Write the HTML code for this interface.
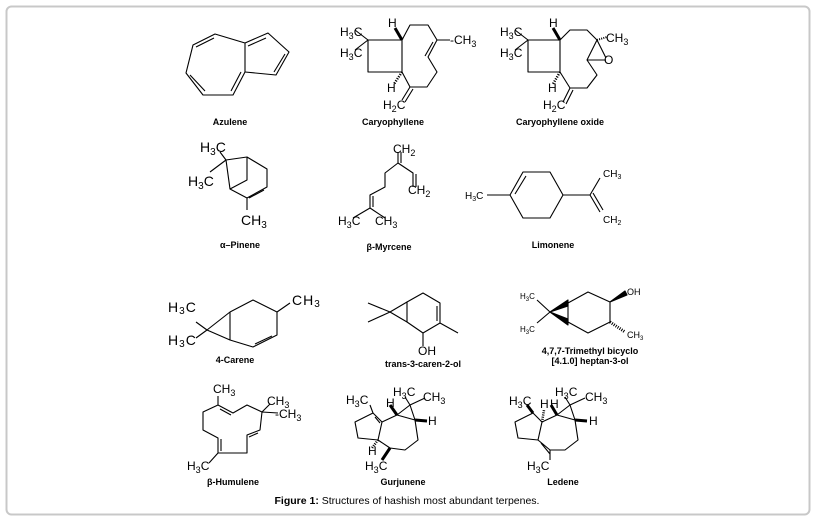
<!DOCTYPE html>
<html><head><meta charset="utf-8"><style>
html,body{margin:0;padding:0;background:#fff;width:816px;height:520px;overflow:hidden}
svg{display:block}
text{font-family:"Liberation Sans",Arial,sans-serif;fill:#000}
.a{font-size:12px}
.s{font-size:9px}
.n{font-size:9px;font-weight:bold;text-anchor:middle}
</style></head><body>
<svg width="816" height="520" viewBox="0 0 816 520" xmlns="http://www.w3.org/2000/svg">
<rect x="6.5" y="6.5" width="803" height="508" rx="5" fill="#fff" stroke="#c8c8c8" stroke-width="2"/>
<g fill="none" stroke="#000" stroke-width="1.1" stroke-linejoin="round">
<!-- Azulene -->
<path d="M186,73 L193,45 L215,34 L245,43 L245,72 L233,95 L203,95 Z"/>
<path d="M245,43 L268,33 L289,52 L276,75 L245,72"/>
<path d="M196,47 L214,38 M190,75 L205,91 M231,91 L241,72 M248,46 L266,38 M285,54 L274,72"/>
<!-- Caryophyllene -->
<path d="M368,40 L402,40 L402,72 L368,72 Z M368,40 L355,30 M368,40 L355,50"/>
<path d="M402,40 L410,25 L428,25 L437,40 L450,40 M437,40 L428,57 L437,72 L427,87 L410,87 L402,72"/>
<path d="M433,42 L425,56 M410,87 L402,100 M413,89 L405,102"/>
<path d="M402,40 L395,28" stroke-width="3"/>
<path d="M402,72 L394,84" stroke-dasharray="1.2,1.3" stroke-width="2.5"/>
<!-- Caryophyllene oxide -->
<path d="M528,40 L560,40 L560,72 L528,72 Z M528,40 L515,30 M528,40 L515,50"/>
<path d="M560,40 L570,30 L587,30 L597,40 M597,40 L587,60 L597,75 L587,88 L570,88 L560,72"/>
<path d="M587,60 L606,60 M597,40 L606,58 M570,88 L563,102 M573,90 L566,104"/>
<path d="M560,40 L553,28" stroke-width="3"/>
<path d="M597,40 L607,37" stroke-dasharray="1,1.2" stroke-width="2"/>
<path d="M560,72 L553,84" stroke-dasharray="1.2,1.3" stroke-width="2.5"/>
<!-- alpha-Pinene -->
<path d="M226,160 L247,157 L267,169 L267,187 L247,198 L230,189 L226,160 M247,157 L247,180 L230,189 M247,198 L247,210"/>
<path d="M264,190 L249,198" />
<path d="M226,160 L220,152 M226,160 L210,172"/>
<!-- beta-Myrcene -->
<path d="M398,163 L385,173 L385,187 L370,195 L370,208 L353,218 M370,208 L385,218"/>
<path d="M398,163 L398,152 M401,163 L401,152 M398,163 L413,173 L413,187 M416,174 L416,187 M373,196 L373,207"/>
<!-- Limonene -->
<path d="M510,195 L523,172 L550,172 L563,195 L550,218 L523,218 Z M487,195 L510,195 M515,194 L526,176"/>
<path d="M563,195 L590,195 L600,178 M590,195 L600,212 M593,193 L603,210"/>
<!-- 4-Carene -->
<path d="M207,330 L230,312 L230,340 Z M230,312 L253,300 L277,312 L277,335 L253,347 L230,340 M277,312 L290,303"/>
<path d="M207,330 L196,322 M207,330 L196,338 M272,336 L255,344"/>
<!-- trans-3-caren-2-ol -->
<path d="M390,312 L407,302 L407,322 Z M390,312 L368,303 M390,312 L368,322"/>
<path d="M407,302 L423,293 L440,303 L440,323 L423,333 L407,322 M440,323 L458,333 M423,333 L423,346 M437,306 L437,321"/>
<!-- 4,7,7-Trimethyl -->
<path d="M568,303 L588,292 L610,302 L610,322 L588,333 L568,322 Z M537,300 L550,312 M537,323 L550,312"/>
<path d="M550,312 L568,300 L568,306 Z M550,312 L568,319 L568,325 Z" fill="#000"/>
<path d="M610,302 L625,291 L627,295 Z" fill="#000"/>
<path d="M610,322 L625,332" stroke-dasharray="1,1.3" stroke-width="3"/>
<!-- beta-Humulene -->
<path d="M218,405 L233,413 L247,405 L262,412 L260,430 L247,435 L247,453 L218,453 L218,438 L203,430 L203,412 Z M218,405 L218,396 M262,412 L270,404 M262,412 L278,413 M218,453 L209,463"/>
<path d="M220,409 L231,415 M258,433 L249,437 M221,439 L221,451"/>
<!-- Gurjunene -->
<path d="M373,413 L355,422 L358,438 L378,440 L382,422 Z M375,417 L380,423 M373,413 L370,405"/>
<path d="M382,422 L397,415 L415,420 L418,440 L405,450 L390,448 L378,440 M397,415 L410,405 L415,420 M410,405 L405,397 M410,405 L425,398"/>
<path d="M397,415 L390,405" stroke-width="3"/>
<path d="M415,420 L427,421" stroke-width="3"/>
<path d="M378,440 L372,448" stroke-dasharray="1,1.2" stroke-width="2.5"/>
<path d="M390,448 L382,460" stroke-width="3"/>
<!-- Ledene -->
<path d="M533,413 L515,422 L518,438 L538,440 L542,422 Z M533,413 L527,405"/>
<path d="M542,422 L557,415 L575,420 L578,440 L565,450 L550,450 L538,440 M557,415 L570,405 L575,420 M570,405 L565,397 M570,405 L585,398 M541,443 L550,454 M550,450 L550,460"/>
<path d="M533,413 L527,405" stroke-width="3"/>
<path d="M542,422 L544,410" stroke-dasharray="1,1.2" stroke-width="2.5"/>
<path d="M557,415 L551,405" stroke-width="3"/>
<path d="M575,420 L587,421" stroke-width="3"/>
</g>
<!-- atom labels -->
<g class="a">
<text x="340" y="36">H<tspan class="s" dy="3">3</tspan><tspan dy="-3">C</tspan></text>
<text x="340" y="57">H<tspan class="s" dy="3">3</tspan><tspan dy="-3">C</tspan></text>
<text x="388" y="27">H</text>
<text x="450" y="44">-CH<tspan class="s" dy="3">3</tspan></text>
<text x="387" y="92">H</text>
<text x="383" y="109">H<tspan class="s" dy="3">2</tspan><tspan dy="-3">C</tspan></text>
<text x="500" y="36">H<tspan class="s" dy="3">3</tspan><tspan dy="-3">C</tspan></text>
<text x="500" y="57">H<tspan class="s" dy="3">3</tspan><tspan dy="-3">C</tspan></text>
<text x="549" y="27">H</text>
<text x="606" y="42">CH<tspan class="s" dy="3">3</tspan></text>
<text x="604" y="64">O</text>
<text x="548" y="92">H</text>
<text x="543" y="109">H<tspan class="s" dy="3">2</tspan><tspan dy="-3">C</tspan></text>
<text x="200" y="152" style="font-size:14px">H<tspan style="font-size:10px" dy="3">3</tspan><tspan dy="-3">C</tspan></text>
<text x="188" y="186" style="font-size:14px">H<tspan style="font-size:10px" dy="3">3</tspan><tspan dy="-3">C</tspan></text>
<text x="241" y="225" style="font-size:14px">CH<tspan style="font-size:10px" dy="3">3</tspan></text>
<text x="393" y="153">CH<tspan class="s" dy="3">2</tspan></text>
<text x="408" y="194">CH<tspan class="s" dy="3">2</tspan></text>
<text x="338" y="225">H<tspan class="s" dy="3">3</tspan><tspan dy="-3">C</tspan></text>
<text x="375" y="225">CH<tspan class="s" dy="3">3</tspan></text>
<text x="465" y="199" style="font-size:10px">H<tspan style="font-size:7px" dy="2">3</tspan><tspan dy="-2">C</tspan></text>
<text x="603" y="177" style="font-size:10px">CH<tspan style="font-size:7px" dy="2">3</tspan></text>
<text x="603" y="223" style="font-size:10px">CH<tspan style="font-size:7px" dy="2">2</tspan></text>
<text x="168" y="312" style="font-size:14px;letter-spacing:1px">H<tspan style="font-size:10px" dy="2">3</tspan><tspan dy="-2">C</tspan></text>
<text x="168" y="345" style="font-size:14px;letter-spacing:1px">H<tspan style="font-size:10px" dy="2">3</tspan><tspan dy="-2">C</tspan></text>
<text x="292" y="305" style="font-size:14px;letter-spacing:1px">CH<tspan style="font-size:10px" dy="2">3</tspan></text>
<text x="418" y="355">OH</text>
<text x="520" y="299" style="font-size:8px">H<tspan style="font-size:6px" dy="2">3</tspan><tspan dy="-2">C</tspan></text>
<text x="520" y="332" style="font-size:8px">H<tspan style="font-size:6px" dy="2">3</tspan><tspan dy="-2">C</tspan></text>
<text x="627" y="295" style="font-size:9px">OH</text>
<text x="627" y="338" style="font-size:9px">CH<tspan style="font-size:6px" dy="2">3</tspan></text>
<text x="213" y="393">CH<tspan class="s" dy="3">3</tspan></text>
<text x="267" y="405">CH<tspan class="s" dy="3">3</tspan></text>
<text x="275" y="418">-CH<tspan class="s" dy="3">3</tspan></text>
<text x="187" y="470">H<tspan class="s" dy="3">3</tspan><tspan dy="-3">C</tspan></text>
<text x="346" y="404">H<tspan class="s" dy="3">3</tspan><tspan dy="-3">C</tspan></text>
<text x="386" y="407">H</text>
<text x="393" y="396">H<tspan class="s" dy="3">3</tspan><tspan dy="-3">C</tspan></text>
<text x="423" y="401">CH<tspan class="s" dy="3">3</tspan></text>
<text x="428" y="425">H</text>
<text x="368" y="455">H</text>
<text x="365" y="470">H<tspan class="s" dy="3">3</tspan><tspan dy="-3">C</tspan></text>
<text x="509" y="405">H<tspan class="s" dy="3">3</tspan><tspan dy="-3">C</tspan></text>
<text x="540" y="408">H</text>
<text x="550" y="408">H</text>
<text x="555" y="396">H<tspan class="s" dy="3">3</tspan><tspan dy="-3">C</tspan></text>
<text x="585" y="401">CH<tspan class="s" dy="3">3</tspan></text>
<text x="589" y="425">H</text>
<text x="527" y="470">H<tspan class="s" dy="3">3</tspan><tspan dy="-3">C</tspan></text>
</g>
<!-- names -->
<g class="n">
<text x="230" y="125">Azulene</text>
<text x="393" y="125">Caryophyllene</text>
<text x="560" y="125">Caryophyllene oxide</text>
<text x="240" y="248">α–Pinene</text>
<text x="389" y="250">β-Myrcene</text>
<text x="553" y="248">Limonene</text>
<text x="235" y="363">4-Carene</text>
<text x="423" y="367">trans-3-caren-2-ol</text>
<text x="590" y="354">4,7,7-Trimethyl bicyclo</text>
<text x="590" y="364">[4.1.0] heptan-3-ol</text>
<text x="233" y="485">β-Humulene</text>
<text x="403" y="485">Gurjunene</text>
<text x="563" y="485">Ledene</text>
</g>
<text x="407" y="504" style="font-size:10.5px;text-anchor:middle"><tspan font-weight="bold">Figure 1:</tspan> Structures of hashish most abundant terpenes.</text>
</svg>
</body></html>
